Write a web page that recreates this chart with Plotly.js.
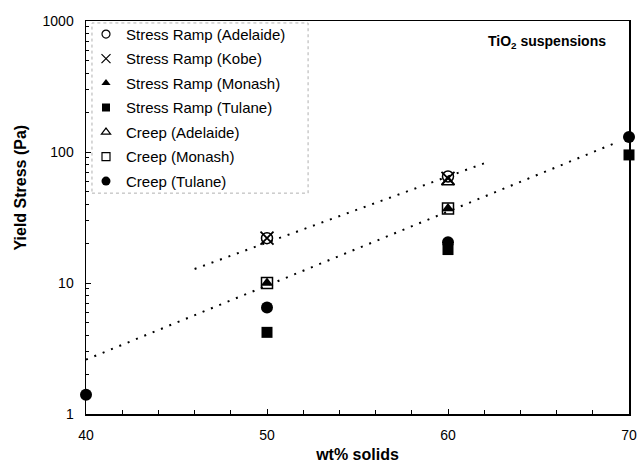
<!DOCTYPE html>
<html>
<head>
<meta charset="utf-8">
<script src="https://cdn.plot.ly/plotly-3.0.1.min.js"></script>
<style>
  html, body { margin: 0; padding: 0; background: #fff; }
  #chart { width: 639px; height: 466px; }
</style>
</head>
<body>
<div id="chart"></div>
<script>
// Yield stress of TiO2 suspensions versus solids loading, per lab and method
const rampAdelaideX = [50, 60];
const rampAdelaideY = [22, 65];
const rampKobeX = [50, 60];
const rampKobeY = [22, 63];
const rampMonashX = [50, 60];
const rampMonashY = [10, 37];
const rampTulaneX = [50, 60, 70];
const rampTulaneY = [4.2, 18, 95];
const creepAdelaideX = [60];
const creepAdelaideY = [59];
const creepMonashX = [50, 60];
const creepMonashY = [10, 37];
const creepTulaneX = [40, 50, 60, 70];
const creepTulaneY = [1.4, 6.5, 20.5, 130];

// Exponential trend lines (straight on the log axis)
const trendUpperX = [46, 62];
const trendUpperY = [12.8, 82];
const trendLowerX = [40, 69.3];
const trendLowerY = [2.6, 118];

const xTickVals = [40, 50, 60, 70];
const yTickVals = [1, 10, 100, 1000];
const yTickText = ['1', '10', '100', '1000'];

const FONT = 'Arial, "Liberation Sans", sans-serif';

// Each series: name, x, y, symbol, plot marker size, outline width
const series = [
  ['Stress Ramp (Adelaide)', rampAdelaideX, rampAdelaideY, 'circle-open', 11, 1.5],
  ['Stress Ramp (Kobe)', rampKobeX, rampKobeY, 'x-thin-open', 13, 1.8],
  ['Stress Ramp (Monash)', rampMonashX, rampMonashY, 'triangle-up', 11, 0],
  ['Stress Ramp (Tulane)', rampTulaneX, rampTulaneY, 'square', 11, 0],
  ['Creep (Adelaide)', creepAdelaideX, creepAdelaideY, 'triangle-up-open', 11, 1.5],
  ['Creep (Monash)', creepMonashX, creepMonashY, 'square-open', 11, 1.5],
  ['Creep (Tulane)', creepTulaneX, creepTulaneY, 'circle', 12, 0]
];

const trendStyle = { color: '#000', width: 2, dash: '2px,7px' };

const traces = [
  { type: 'scatter', mode: 'lines', x: trendUpperX, y: trendUpperY,
    line: trendStyle, showlegend: false, hoverinfo: 'skip' },
  { type: 'scatter', mode: 'lines', x: trendLowerX, y: trendLowerY,
    line: trendStyle, showlegend: false, hoverinfo: 'skip' }
];

// Plotted markers
series.forEach(([name, x, y, symbol, size, lw]) => {
  traces.push({
    type: 'scatter', mode: 'markers', name: name, x: x, y: y,
    showlegend: false, cliponaxis: false,
    marker: { symbol: symbol, size: size, color: '#000',
              line: { color: '#000', width: lw } }
  });
});

// Legend keys use smaller symbols than the plotted markers
series.forEach(([name, x, y, symbol, size, lw]) => {
  traces.push({
    type: 'scatter', mode: 'markers', name: name, x: [null], y: [null],
    legendgroup: name, showlegend: true,
    marker: { symbol: symbol, size: Math.round(size * 0.72), color: '#000',
              line: { color: '#000', width: lw ? 1.2 : 0 } }
  });
});

const layout = {
  width: 639, height: 466,
  margin: { l: 86, r: 10, t: 21, b: 52 },
  paper_bgcolor: '#fff', plot_bgcolor: '#fff',
  font: { family: FONT, size: 14, color: '#000' },
  showlegend: true,
  legend: {
    x: 0.0, y: 1.008, xanchor: 'left', yanchor: 'top',
    bgcolor: 'rgba(0,0,0,0)', borderwidth: 0,
    font: { family: FONT, size: 15, color: '#000' },
    tracegroupgap: 2, itemwidth: 30, traceorder: 'grouped'
  },
  xaxis: {
    range: [40, 70], tickmode: 'array', tickvals: xTickVals,
    ticks: 'inside', ticklen: 5, tickwidth: 1, tickcolor: '#000',
    minor: { dtick: 2, ticks: 'inside', ticklen: 4, tickcolor: '#000', showgrid: false },
    showline: true, linecolor: '#000', linewidth: 1.5, mirror: true,
    showgrid: false, zeroline: false,
    ticklabelstandoff: 8,
    tickfont: { family: FONT, size: 14 },
    title: { text: '<b>wt% solids</b>', font: { family: FONT, size: 16 }, standoff: 6 }
  },
  yaxis: {
    type: 'log', range: [0, 3], tickmode: 'array', tickvals: yTickVals, ticktext: yTickText,
    ticks: 'inside', ticklen: 5, tickwidth: 1, tickcolor: '#000',
    minor: { tickvals: [2,3,4,5,6,7,8,9,20,30,40,50,60,70,80,90,200,300,400,500,600,700,800,900],
             ticks: 'inside', ticklen: 3, tickcolor: '#000', showgrid: false },
    showline: true, linecolor: '#000', linewidth: 1.5, mirror: true,
    showgrid: false, zeroline: false,
    ticklabelstandoff: 8,
    tickfont: { family: FONT, size: 14 }
  },
  shapes: [
    { type: 'rect', xref: 'paper', yref: 'paper',
      x0: 0.011, x1: 0.409, y0: 0.562, y1: 0.995,
      line: { color: '#b0b0b0', width: 1, dash: 'dot' } }
  ],
  annotations: [
    { text: '<b>Yield Stress (Pa)</b>', xref: 'paper', yref: 'paper',
      x: -0.121, y: 0.577, xanchor: 'center', yanchor: 'middle',
      textangle: -90, showarrow: false, font: { family: FONT, size: 16 } },
    { text: '<b>TiO<sub>2</sub> suspensions</b>', xref: 'paper', yref: 'paper',
      x: 0.961, y: 0.947, xanchor: 'right', yanchor: 'middle',
      showarrow: false, font: { family: FONT, size: 14 } }
  ]
};

Plotly.newPlot('chart', traces, layout, { displayModeBar: false, staticPlot: true });
</script>
</body>
</html>
